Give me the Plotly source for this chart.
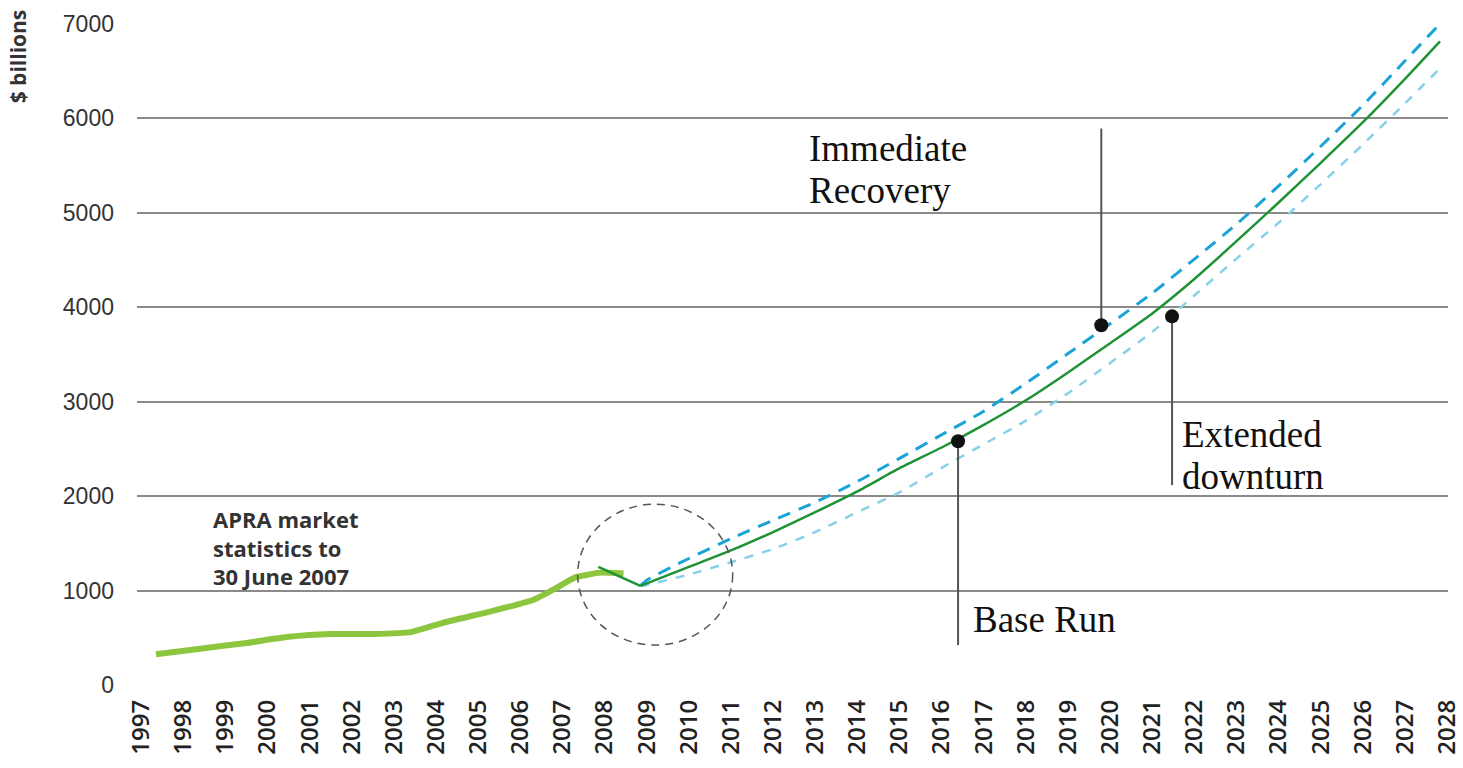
import plotly.graph_objects as go

# Historical APRA market statistics ($ billions)
hist_years = [1997.35, 1998.4, 1999.5, 2000.5, 2001.5, 2002.5, 2003.4, 2004.3,
              2005.3, 2006.3, 2006.9, 2007.3, 2007.9, 2008.45]
hist_values = [325, 385, 445, 510, 540, 540, 560, 675,
               780, 900, 1040, 1140, 1190, 1180]

# Base run: the 2008 fall, then the projected path ($ billions)
fall_years = [2007.85, 2008.85]
fall_values = [1250, 1050]
base_years = [2008.85, 2010, 2011, 2012, 2013, 2014, 2015, 2016, 2017,
              2018, 2019, 2020, 2021, 2022, 2023, 2024, 2025, 2026, 2027, 2027.83]
base_values = [1050, 1250, 1425, 1620, 1830, 2050, 2296, 2515, 2755,
               3015, 3310, 3620, 3935, 4300, 4700, 5110, 5530, 5960, 6420, 6817]

# Alternative scenarios ($ billions)
proj_years = [2008.85, 2009, 2010, 2011, 2012, 2013, 2014, 2015, 2016, 2017, 2018,
              2019, 2020, 2021, 2022, 2023, 2024, 2025, 2026, 2027, 2027.78]
recovery_values = [1050, 1110, 1340, 1550, 1745, 1935, 2155, 2400, 2650, 2900, 3195,
                   3510, 3825, 4150, 4510, 4880, 5285, 5705, 6140, 6610, 6980]
downturn_values = [1050, 1060, 1170, 1300, 1440, 1620, 1830, 2040, 2300, 2550, 2800,
                   3090, 3410, 3740, 4125, 4515, 4895, 5305, 5725, 6160, 6508]

# Callout markers: (year, value) of the dot and the value where the leader ends
callout_names = ["Base Run", "Immediate Recovery", "Extended downturn"]
callout_years = [2016.39, 2019.79, 2021.47]
callout_values = [2582, 3809, 3904]
callout_ends = [423, 5893, 2116]

year_ticks = list(range(1997, 2029))
value_ticks = list(range(0, 7001, 1000))

smooth = dict(shape="spline", smoothing=0.6)

fig = go.Figure()

fig.add_trace(go.Scatter(x=hist_years, y=hist_values, mode="lines",
                         line=dict(color="#8cc63f", width=6, shape="spline", smoothing=0.4)))
fig.add_trace(go.Scatter(x=proj_years, y=downturn_values, mode="lines",
                         line=dict(color="#86d0e8", width=2.5, dash="9px,9px", **smooth)))
fig.add_trace(go.Scatter(x=proj_years, y=recovery_values, mode="lines",
                         line=dict(color="#1aa3d6", width=3, dash="13px,9px", **smooth)))
fig.add_trace(go.Scatter(x=fall_years, y=fall_values, mode="lines",
                         line=dict(color="#1f9236", width=2.5)))
fig.add_trace(go.Scatter(x=base_years, y=base_values, mode="lines",
                         line=dict(color="#1f9236", width=2.5, **smooth)))

# Leader lines for the callouts
for cx, cy, ce in zip(callout_years, callout_values, callout_ends):
    fig.add_trace(go.Scatter(x=[cx, cx], y=[cy, ce], mode="lines",
                             line=dict(color="#555555", width=2)))
fig.add_trace(go.Scatter(x=callout_years, y=callout_values, mode="markers",
                         marker=dict(color="#111111", size=14)))

# Dashed circle around the 2008 downturn
fig.add_shape(type="circle", xref="x", yref="y",
              x0=2007.36, x1=2011.04, y0=423, y1=1915,
              line=dict(color="#555555", width=1.5, dash="8px,6px"))

serif = "Liberation Serif, Times New Roman, serif"
label_font = dict(family=serif, size=37, color="#111111")
callout_text = [
    ("Immediate", 807, 148),
    ("Recovery", 807, 190),
    ("Extended", 1180, 434),
    ("downturn", 1180, 476),
    ("Base Run", 971, 619),
]
x0_px, x_px_per_year = 141.0, 42.13
y0_px, y_px_per_unit = 685.0, 661.0 / 7000
for txt, px, py in callout_text:
    fig.add_annotation(x=1997 + (px - x0_px) / x_px_per_year,
                       y=(y0_px - py) / y_px_per_unit,
                       text=txt, showarrow=False, xanchor="left", yanchor="middle",
                       font=label_font)

fig.add_annotation(x=1997 + (211 - x0_px) / x_px_per_year, y=1940,
                   text="<b>APRA market<br>statistics to<br>30 June 2007</b>",
                   showarrow=False, xanchor="left", yanchor="top", align="left",
                   font=dict(family="Open Sans, Arial, sans-serif", size=22, color="#333333"))

fig.add_annotation(xref="paper", yref="paper", x=-0.0908, y=0.951,
                   text="<b>$ billions</b>", textangle=-90, showarrow=False,
                   xanchor="center", yanchor="middle",
                   font=dict(family="Open Sans, Arial, sans-serif", size=21, color="#333333"))

fig.update_layout(
    width=1463, height=768,
    margin=dict(l=137, r=15, t=24, b=83),
    paper_bgcolor="white", plot_bgcolor="white",
    showlegend=False,
    xaxis=dict(range=[1996.9, 2028.02], tickvals=year_ticks,
               ticktext=[str(y) for y in year_ticks], tickangle=-90,
               showgrid=False, zeroline=False, showline=False, ticks="",
               ticklabelstandoff=9, automargin=False,
               tickfont=dict(family="Open Sans, Arial, sans-serif", size=24,
                             color="#222222", weight=600)),
    yaxis=dict(range=[0, 7000], tickvals=value_ticks,
               showgrid=True, gridcolor="#8a8a8a", gridwidth=1.5,
               zeroline=False, showline=False, ticks="",
               ticklabelstandoff=22, automargin=False,
               tickfont=dict(family="Liberation Sans, Arial, sans-serif", size=23,
                             color="#333333")),
)

fig.write_html("out.html")
